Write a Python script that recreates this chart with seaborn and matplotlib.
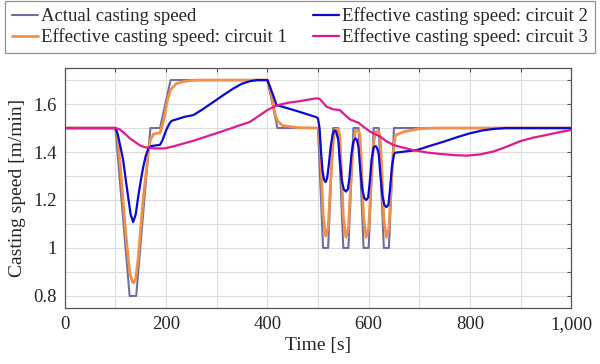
import numpy as np
import pandas as pd
import matplotlib
matplotlib.use("Agg")
import matplotlib.pyplot as plt
from matplotlib.ticker import MultipleLocator, FuncFormatter
import seaborn as sns

# ---------------- data ----------------
actual_t = [0, 100, 128, 141, 169, 188, 209, 400, 420, 500, 510, 520, 530, 540, 550, 560,
            570, 580, 590, 600, 610, 620, 630, 640, 650, 1000]
actual_v = [1.5, 1.5, 0.8, 0.8, 1.5, 1.5, 1.7, 1.7, 1.5, 1.5, 1.0, 1.0, 1.5, 1.5, 1.0, 1.0,
            1.5, 1.5, 1.0, 1.0, 1.5, 1.5, 1.0, 1.0, 1.5, 1.5]

c1_t = [0, 100, 104, 110, 120, 128, 133, 136, 140, 145, 155, 165, 169, 175,
        188, 195, 203, 209, 220, 237, 260, 400, 405, 415, 420, 430, 460, 500,
        503, 506, 510, 515, 520, 525, 530, 534,
        540, 543, 546, 550, 555, 560, 565, 570, 574,
        580, 583, 586, 590, 595, 600, 605, 610, 614,
        620, 623, 626, 630, 635, 640, 645, 650,
        653, 670, 700, 730, 1000]
c1_v = [1.5, 1.5, 1.47, 1.33, 1.07, 0.90, 0.86, 0.855, 0.87, 0.96, 1.21, 1.40, 1.45, 1.475,
        1.48, 1.53, 1.62, 1.66, 1.685, 1.695, 1.70, 1.70, 1.67, 1.56, 1.53, 1.51, 1.502, 1.50,
        1.47, 1.35, 1.14, 1.05, 1.08, 1.28, 1.44, 1.495,
        1.495, 1.47, 1.34, 1.13, 1.045, 1.08, 1.28, 1.44, 1.49,
        1.49, 1.47, 1.34, 1.13, 1.045, 1.08, 1.28, 1.44, 1.485,
        1.485, 1.46, 1.33, 1.12, 1.045, 1.08, 1.28, 1.43,
        1.47, 1.485, 1.497, 1.50, 1.50]

c2_t = [0, 100, 105, 110, 115, 120, 125, 130, 135, 140, 145, 150, 155, 160, 165, 171,
        188, 193, 200, 207, 211,
        237, 254, 270, 293, 315, 333, 350, 365, 380, 400, 410, 418, 460, 497,
        500, 503, 506, 509, 512, 515, 518, 521, 525, 529, 533, 536,
        540, 543, 547, 551, 555, 559, 562, 566, 570, 574, 577,
        580, 583, 587, 591, 595, 599, 602, 606, 610, 614, 617,
        620, 623, 627, 631, 635, 639, 642, 646, 650, 652,
        695, 720, 748, 775, 800, 825, 846, 870, 1000]
c2_v = [1.5, 1.5, 1.47, 1.42, 1.37, 1.29, 1.214, 1.14, 1.108, 1.14, 1.214, 1.28, 1.339,
        1.385, 1.415, 1.425,
        1.43, 1.45, 1.49, 1.52, 1.53,
        1.547, 1.554, 1.575, 1.608, 1.64, 1.665, 1.685, 1.695, 1.70, 1.70, 1.645, 1.596,
        1.57, 1.545,
        1.54, 1.50, 1.40, 1.32, 1.285, 1.275, 1.29, 1.34, 1.42, 1.475, 1.49, 1.485,
        1.45, 1.37, 1.28, 1.245, 1.235, 1.245, 1.29, 1.39, 1.445, 1.457, 1.45,
        1.42, 1.34, 1.25, 1.21, 1.20, 1.21, 1.27, 1.37, 1.42, 1.425, 1.415,
        1.39, 1.31, 1.22, 1.18, 1.17, 1.18, 1.24, 1.34, 1.39, 1.397,
        1.408, 1.425, 1.443, 1.462, 1.478, 1.49, 1.496, 1.5, 1.5]

c3_t = [0, 100, 108, 118, 128, 138, 148, 158, 178, 197, 217, 237, 254, 280, 306, 330, 346,
        365, 385, 400, 418, 440, 464, 480, 497, 503, 517, 530, 543, 553, 563, 580, 590, 603,
        623, 635, 649, 665, 688, 715, 741, 770, 794, 820, 846, 870, 899, 925, 951, 975, 1000]
c3_v = [1.5, 1.5, 1.495, 1.478, 1.458, 1.443, 1.428, 1.42, 1.415, 1.415, 1.425, 1.437,
        1.447, 1.465, 1.483, 1.50, 1.512, 1.525, 1.553, 1.575, 1.594, 1.605, 1.612, 1.618,
        1.624, 1.622, 1.589, 1.578, 1.575, 1.555, 1.536, 1.522, 1.505, 1.485, 1.464, 1.445,
        1.429, 1.42, 1.408, 1.398, 1.392, 1.387, 1.385, 1.39, 1.402, 1.42, 1.445, 1.46,
        1.471, 1.482, 1.492]

labels = ["Actual casting speed",
          "Effective casting speed: circuit 1",
          "Effective casting speed: circuit 2",
          "Effective casting speed: circuit 3"]
colors = ["#6e6f9c", "#f0904a", "#0a0ad2", "#e0198f"]
widths = [1.5, 2.0, 1.6, 1.6]

# ---------------- plot ----------------
sns.set_theme(style="white")
plt.rcParams["font.family"] = ["Liberation Serif", "DejaVu Serif"]
plt.rcParams["mathtext.fontset"] = "stix"

fig = plt.figure(figsize=(6.0, 3.64), dpi=100)
ax = fig.add_axes([0.108, 0.154, 0.844, 0.659])

series = [(actual_t, actual_v), (c1_t, c1_v), (c2_t, c2_v), (c3_t, c3_v)]
for (t, v), lab, col, lw in zip(series, labels, colors, widths):
    df = pd.DataFrame({"t": t, "v": v})
    sns.lineplot(data=df, x="t", y="v", ax=ax, color=col, linewidth=lw,
                 label=lab, estimator=None, sort=False)

ax.set_xlim(0, 1000)
ax.set_ylim(0.75, 1.75)
ax.xaxis.set_major_locator(MultipleLocator(200))
ax.xaxis.set_minor_locator(MultipleLocator(100))
ax.yaxis.set_major_locator(MultipleLocator(0.2))
ax.yaxis.set_minor_locator(MultipleLocator(0.1))
ax.xaxis.set_major_formatter(FuncFormatter(lambda x, p: f"{int(round(x)):,}"))
ax.yaxis.set_major_formatter(FuncFormatter(lambda y, p: f"{y:g}"))
ax.set_ylim(0.75, 1.75)

ax.grid(True, which="both", color="#dcdcdc", linewidth=0.8)
ax.set_axisbelow(True)
ax.tick_params(which="both", direction="in", top=True, right=True,
               color="#555555", length=3, width=0.8)
ax.tick_params(which="major", labelsize=13.5, pad=6)
for s in ax.spines.values():
    s.set_color("#555555")
    s.set_linewidth(0.9)

ax.set_xlabel("Time [s]", fontsize=14, labelpad=3)
ax.set_ylabel("Casting speed [m/min]", fontsize=14, labelpad=5)

handles, labs = ax.get_legend_handles_labels()
ax.get_legend().remove()
leg = fig.legend(handles, labs, loc="upper center", bbox_to_anchor=(0.5, 1.0),
                 ncol=2, fontsize=13.5, frameon=True, fancybox=False,
                 edgecolor="#777777", handlelength=1.4, handletextpad=0.15,
                 columnspacing=1.4, borderpad=0.35, labelspacing=0.15,
                 borderaxespad=0.05)
leg.get_frame().set_linewidth(0.9)

fig.savefig("out.png", dpi=100)
